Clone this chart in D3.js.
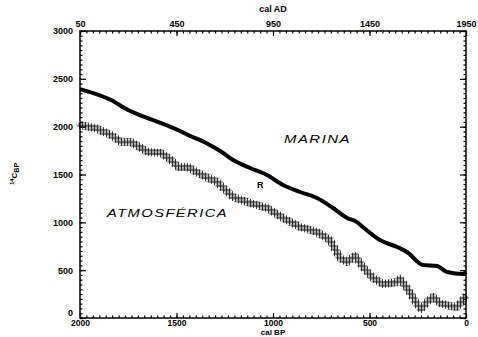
<!DOCTYPE html>
<html>
<head>
<meta charset="utf-8">
<script src="https://cdn.jsdelivr.net/npm/d3@7"></script>
<style>
  body { margin: 0; background: #fff; }
  svg { display: block; }
  text { font-family: "Liberation Sans", Arial, sans-serif; }
</style>
</head>
<body>
<div id="graph"></div>
<script>
// data (cal BP -> 14C BP)
var marinaBP = [2000, 1839, 1751, 1663, 1580, 1492, 1440, 1347, 1270, 1207, 1119, 1031, 948, 860, 772, 689, 616, 565, 534, 446, 357, 306, 223, 150, 98, 16, 0];
var marinaC14 = [2393, 2278, 2174, 2100, 2038, 1965, 1913, 1829, 1740, 1651, 1568, 1494, 1390, 1317, 1254, 1150, 1045, 1003, 951, 815, 742, 690, 554, 543, 481, 460, 481];

var atmoBP = [2000, 1995, 1922, 1839, 1787, 1736, 1684, 1648, 1580, 1528, 1492, 1440, 1389, 1347, 1290, 1207, 1119, 1031, 948, 860, 772, 705, 653, 616, 575, 534, 482, 430, 357, 342, 306, 254, 233, 202, 171, 135, 83, 47, 16, 0];
var atmoC14 = [2040, 2017, 1986, 1913, 1840, 1840, 1777, 1735, 1725, 1652, 1578, 1578, 1516, 1474, 1422, 1265, 1202, 1150, 1045, 951, 899, 815, 627, 585, 648, 533, 418, 355, 376, 408, 314, 146, 94, 167, 219, 157, 125, 115, 188, 240];

var bpTicks = [2000, 1500, 1000, 500, 0];
var adLabels = ["50", "450", "950", "1450", "1950"];
var yTicks = [0, 500, 1000, 1500, 2000, 2500, 3000];

var W = 478, H = 337;
var margin = { top: 31, right: 12, bottom: 19, left: 80 };

var svg = d3.select("#graph").append("svg")
  .attr("width", W).attr("height", H);

var x = d3.scaleLinear().domain([2000, 0]).range([margin.left, W - margin.right]);
var y = d3.scaleLinear().domain([0, 3000]).range([H - margin.bottom, margin.top]);

// plus-sign texture for the atmospheric band
var defs = svg.append("defs");
var pat = defs.append("pattern").attr("id", "plus")
  .attr("patternUnits", "userSpaceOnUse").attr("width", 3).attr("height", 4);
pat.append("path").attr("d", "M0,2H3M1.5,0V4").attr("stroke", "#111").attr("stroke-width", 0.8);

var smooth = d3.line().x(d => x(d[0])).y(d => y(d[1])).curve(d3.curveMonotoneX);
var jagged = d3.line().x(d => x(d[0])).y(d => y(d[1]));

var atmo = atmoBP.map((d, i) => [d, atmoC14[i]]);
var marina = marinaBP.map((d, i) => [d, marinaC14[i]]);

svg.append("path").datum(atmo)
  .attr("d", jagged).attr("fill", "none")
  .attr("stroke", "#777").attr("stroke-width", 5).attr("stroke-linejoin", "round").attr("opacity", 0.6);
svg.append("path").datum(atmo)
  .attr("d", jagged).attr("fill", "none")
  .attr("stroke", "url(#plus)").attr("stroke-width", 8).attr("stroke-linejoin", "round");

svg.append("path").datum(marina)
  .attr("d", smooth).attr("fill", "none")
  .attr("stroke", "#000").attr("stroke-width", 4).attr("stroke-linejoin", "round");

// axes: ticks point inward
var minorX = d3.range(0, 2001, 500 / 15);
var minorY = d3.range(0, 3001, 50);

function styleAxis(g) {
  g.select(".domain").remove();
  g.selectAll("line").attr("stroke", "#000").attr("stroke-width", 1.2);
  g.selectAll("text").attr("font-size", 9).attr("font-weight", "bold").attr("fill", "#000");
}

svg.append("g").attr("transform", "translate(0," + y(0) + ")")
  .call(d3.axisBottom(x).tickValues(minorX).tickSize(-2.5).tickFormat("")).call(styleAxis);
svg.append("g").attr("transform", "translate(0," + y(0) + ")")
  .call(d3.axisBottom(x).tickValues(bpTicks).tickSize(-5).tickPadding(1.5).tickFormat(d3.format("d"))).call(styleAxis)
  .selectAll("text").attr("font-size", 8.5);

svg.append("g").attr("transform", "translate(0," + y(3000) + ")")
  .call(d3.axisTop(x).tickValues(minorX).tickSize(-2.5).tickFormat("")).call(styleAxis);
svg.append("g").attr("transform", "translate(0," + y(3000) + ")")
  .call(d3.axisTop(x).tickValues(bpTicks).tickSize(-5).tickPadding(4).tickFormat((d, i) => adLabels[i])).call(styleAxis);

svg.append("g").attr("transform", "translate(" + x(2000) + ",0)")
  .call(d3.axisLeft(y).tickValues(minorY).tickSize(-2.5).tickFormat("")).call(styleAxis);
svg.append("g").attr("transform", "translate(" + x(2000) + ",0)")
  .call(d3.axisLeft(y).tickValues(yTicks).tickSize(-6).tickPadding(7).tickFormat(d3.format("d"))).call(styleAxis)
  .selectAll("text").attr("dy", (d) => d === 0 ? "-0.3em" : "0.32em");

svg.append("g").attr("transform", "translate(" + x(0) + ",0)")
  .call(d3.axisRight(y).tickValues(minorY).tickSize(-2.5).tickFormat("")).call(styleAxis);
svg.append("g").attr("transform", "translate(" + x(0) + ",0)")
  .call(d3.axisRight(y).tickValues(yTicks).tickSize(-6).tickFormat("")).call(styleAxis);

// frame
svg.append("rect")
  .attr("x", x(2000)).attr("y", y(3000))
  .attr("width", x(0) - x(2000)).attr("height", y(0) - y(3000))
  .attr("fill", "none").attr("stroke", "#000").attr("stroke-width", 1.5);

// titles
svg.append("text").attr("x", (x(2000) + x(0)) / 2).attr("y", 12)
  .attr("text-anchor", "middle").attr("font-size", 9).attr("font-weight", "bold").text("cal AD");
svg.append("text").attr("x", (x(2000) + x(0)) / 2).attr("y", 335)
  .attr("text-anchor", "middle").attr("font-size", 8).attr("font-weight", "bold").text("cal BP");

var yl = svg.append("text").attr("transform", "translate(17,174) rotate(-90)")
  .attr("text-anchor", "middle").attr("font-size", 8).attr("font-weight", "bold");
yl.append("tspan").attr("font-size", 6).attr("dy", -3).text("14");
yl.append("tspan").attr("dy", 3).text("C");
yl.append("tspan").attr("font-size", 7).attr("dy", 2).text("BP");

// labels
svg.append("text").attr("x", 284).attr("y", 143)
  .attr("font-size", 10).attr("font-style", "italic").attr("letter-spacing", 1)
  .attr("textLength", 67).attr("lengthAdjust", "spacingAndGlyphs")
  .text("MARINA");
svg.append("text").attr("x", 107).attr("y", 217)
  .attr("font-size", 10).attr("font-style", "italic").attr("letter-spacing", 1)
  .attr("textLength", 121).attr("lengthAdjust", "spacingAndGlyphs")
  .text("ATMOSFÉRICA");
svg.append("text").attr("x", 257).attr("y", 188)
  .attr("font-size", 9).attr("font-weight", "bold").text("R");
</script>
</body>
</html>
